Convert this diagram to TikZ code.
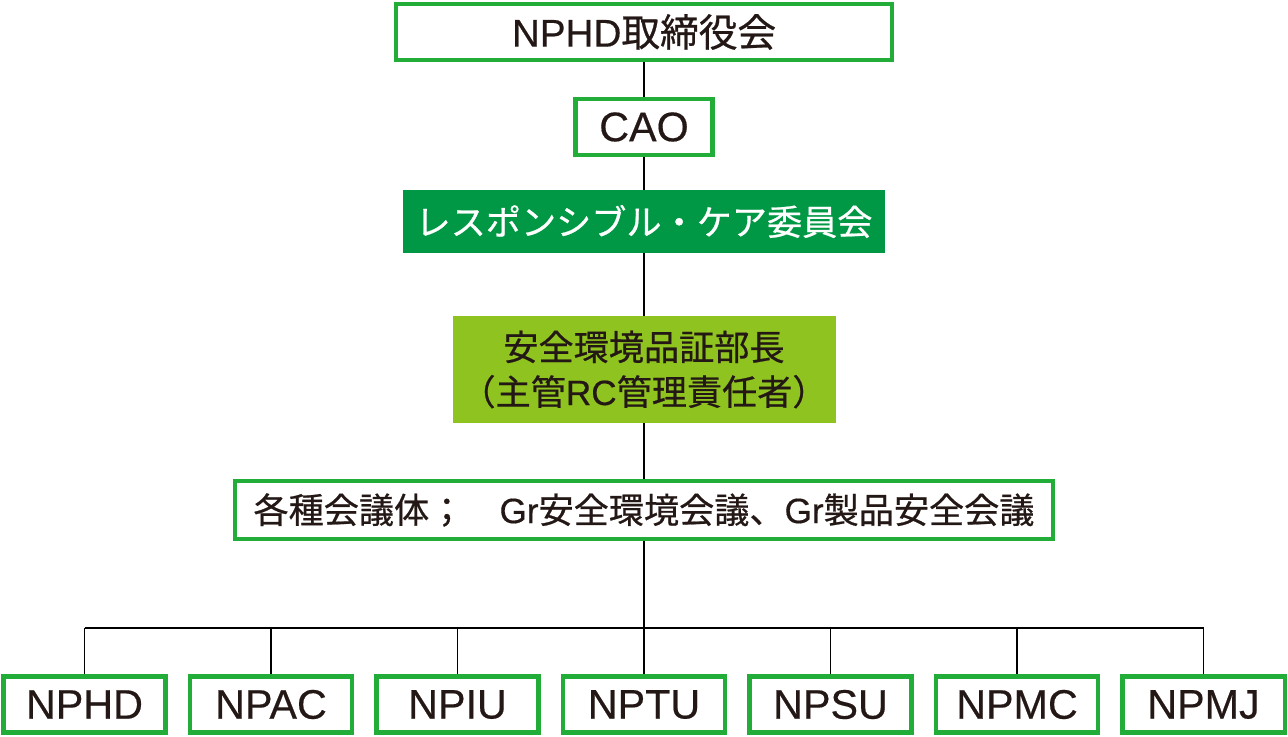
\documentclass[tikz,border=0pt]{standalone}
\usepackage{fontspec}
\setmainfont{Noto Sans CJK JP}[FakeBold=0.6]
\newfontfamily\latinfont{Liberation Sans}[FakeBold=0.4]
\newcommand{\latn}[1]{{\latinfont #1}}
\usepackage{xcolor}
\usepackage{tikz}
\usetikzlibrary{calc}
\definecolor{rcgreen}{HTML}{22AC38}
\definecolor{rcdark}{HTML}{009844}
\definecolor{rclime}{HTML}{8FC31F}
\definecolor{inkblack}{HTML}{231815}

\tikzset{
  orgbox/.style={draw=rcgreen, line width=2.3pt, fill=white, inner sep=0pt,
    text=inkblack, minimum height=1.12cm, align=center},
  unitbox/.style={orgbox, minimum width=3.24cm, font=\fontsize{23.5}{26}\selectfont},
  link/.style={draw=black, line width=1.1pt}
}

\begin{document}
\begin{tikzpicture}
\useasboundingbox (0,0) rectangle (25.76,-14.72);

% --- upper chain ---
\node[orgbox, minimum width=9.92cm, font=\fontsize{22}{26}\selectfont] (board) at (12.88,-0.64) {\latn{NPHD}取締役会};
\node[orgbox, minimum width=2.74cm, font=\fontsize{23.5}{26}\selectfont] (cao) at (12.88,-2.54) {\latn{CAO}};
\node[fill=rcdark, text=white, inner sep=0pt, minimum width=9.64cm, minimum height=1.26cm,
  font=\fontsize{20}{24}\selectfont] (rccomm) at (12.88,-4.43) {レスポンシブル・ケア委員会};
\node[fill=rclime, text=inkblack, inner sep=0pt, minimum width=7.66cm, minimum height=2.14cm,
  align=center, font=\fontsize{20}{25.5}\selectfont] (rcmgr) at (12.88,-7.39) {安全環境品証部長\\（主管\latn{RC}管理責任者）};
\node[orgbox, minimum width=16.36cm, minimum height=1.16cm, font=\fontsize{20}{24}\selectfont] (meetings) at (12.88,-10.20)
  {各種会議体；\hspace{1em}\latn{Gr}安全環境会議、\latn{Gr}製品安全会議};

% --- group companies ---
\foreach \name [count=\i from 0] in {NPHD,NPAC,NPIU,NPTU,NPSU,NPMC,NPMJ}
  \node[unitbox] (unit\i) at ({1.69+3.73*\i},-14.09) {\latn{\name}};

\coordinate (bus) at (12.88,-12.56);

\draw[link] (board) -- (cao);
\draw[link] (cao) -- (rccomm);
\draw[link] (rccomm) -- (rcmgr);
\draw[link] (rcmgr) -- (meetings);
\draw[link] (meetings) -- (bus);
\draw[link] (unit0.north |- bus) -- (unit6.north |- bus);
\foreach \i in {0,...,6}
  \draw[link] (unit\i.north |- bus) -- (unit\i.north);
\end{tikzpicture}
\end{document}
